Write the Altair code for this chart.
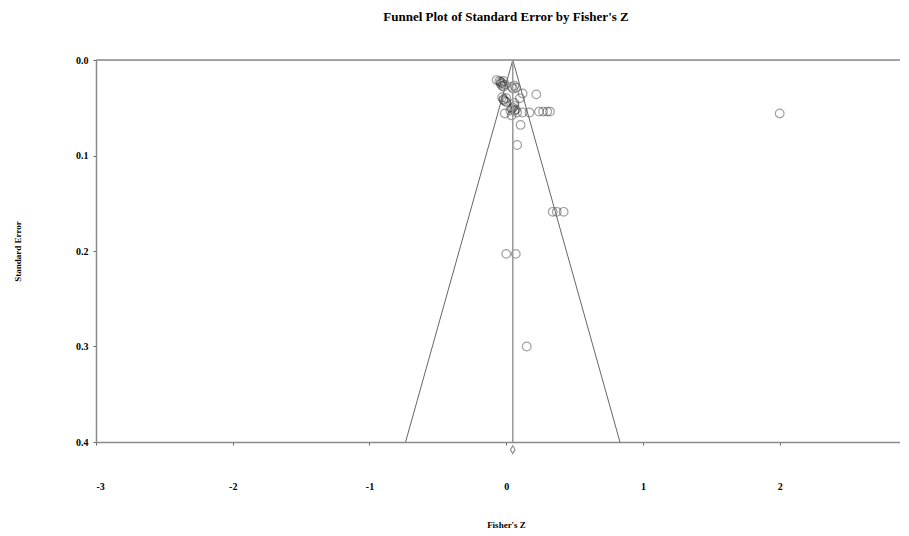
import altair as alt
import pandas as pd

# Study values
fisher_z = [-0.07, -0.05, -0.04, -0.03, -0.02, -0.03, -0.01, -0.04, -0.02,
            0.06, 0.07, 0.05, 0.04,
            -0.03, -0.02, 0.0, -0.01, 0.12, 0.22, 0.10, 0.06, -0.02, 0.0,
            0.06, 0.05, 0.07, 0.03, 0.08, -0.01, 0.12, 0.17, 0.24, 0.27, 0.30, 0.32, 0.04, 0.04, 0.06,
            0.105, 0.08,
            0.34, 0.37, 0.42,
            0.0, 0.07,
            0.15,
            2.0]
std_err = [0.021, 0.022, 0.023, 0.024, 0.022, 0.027, 0.026, 0.025, 0.028,
           0.027, 0.029, 0.030, 0.028,
           0.039, 0.041, 0.040, 0.043, 0.035, 0.036, 0.040, 0.045, 0.042, 0.044,
           0.048, 0.050, 0.052, 0.053, 0.055, 0.056, 0.055, 0.055, 0.054, 0.054, 0.054, 0.054, 0.058, 0.051, 0.053,
           0.068, 0.089,
           0.159, 0.159, 0.159,
           0.203, 0.203,
           0.300,
           0.056]

summary_z = 0.048
summary_se = 0.408
funnel_se = [0.0, 0.4]
x_ticks = [-3, -2, -1, 0, 1, 2]
y_ticks = [0.0, 0.1, 0.2, 0.3, 0.4]

points = pd.DataFrame({"z": fisher_z, "se": std_err})
funnel = pd.DataFrame({
    "z": [summary_z, summary_z - 1.96 * funnel_se[1], summary_z, summary_z + 1.96 * funnel_se[1]],
    "se": [funnel_se[0], funnel_se[1], funnel_se[0], funnel_se[1]],
    "side": ["L", "L", "R", "R"],
})
summary = pd.DataFrame({"z": [summary_z], "se": [summary_se]})

FONT = "Liberation Serif"
GREY = "#8a8a8a"

xscale = alt.Scale(domain=[-3, 2.88], nice=False, zero=False)
yscale = alt.Scale(domain=[0, 0.4], reverse=True, nice=False, zero=False)

xaxis = alt.Axis(values=x_ticks, labelExpr="'' + datum.value", title="Fisher's Z", grid=False,
                 labelFont=FONT, labelFontWeight="bold", labelFontSize=10, labelColor="black",
                 labelPadding=36, tickSize=3, tickColor="#666", domainColor=GREY, domainWidth=1.5,
                 titleFont=FONT, titleFontWeight="bold", titleFontSize=9, titleColor="black",
                 titleX=410, titleY=82, titleAnchor="middle", titleAlign="center", titleBaseline="middle")
yaxis = alt.Axis(values=y_ticks, format=".1f", title="Standard Error", grid=False,
                 labelFont=FONT, labelFontWeight="bold", labelFontSize=10, labelColor="black",
                 labelPadding=5, tickSize=3, tickColor="#666", domainColor=GREY, domainWidth=1.5,
                 titleFont=FONT, titleFontWeight="bold", titleFontSize=9, titleColor="black",
                 titleX=-79, titleY=191, titleAngle=-90, titleAlign="center", titleBaseline="middle")

base_pts = alt.Chart(points).mark_point(shape="circle", filled=False, size=75, stroke="#222",
                                        strokeOpacity=0.6, strokeWidth=1.2).encode(
    x=alt.X("z:Q", scale=xscale, axis=xaxis),
    y=alt.Y("se:Q", scale=yscale, axis=yaxis),
)

top_rule = alt.Chart(summary).mark_rule(color=GREY, strokeWidth=1.5).encode(y=alt.datum(0.0, scale=yscale))

funnel_lines = alt.Chart(funnel).mark_line(color="#666", strokeWidth=1).encode(
    x=alt.X("z:Q", scale=xscale), y=alt.Y("se:Q", scale=yscale), detail="side:N")

mean_line = alt.Chart(summary).mark_rule(color="#999", strokeWidth=1.5).encode(
    x=alt.X("z:Q", scale=xscale), y=alt.datum(funnel_se[0]), y2=alt.datum(funnel_se[1]))

diamond = alt.Chart(summary).mark_point(shape="M0,-1L0.6,0L0,1L-0.6,0Z", size=60, filled=False,
                                        stroke="#666", strokeWidth=1.2).encode(
    x=alt.X("z:Q", scale=xscale), y=alt.Y("se:Q", scale=yscale))

chart = alt.layer(base_pts, top_rule, funnel_lines, mean_line, diamond).properties(
    width=804, height=382,
    title=alt.TitleParams("Funnel Plot of Standard Error by Fisher's Z", font=FONT, fontSize=13,
                          fontWeight="bold", color="black", anchor="middle", offset=31, dx=8),
    autosize=alt.AutoSizeParams(type="none"),
    padding={"left": 88, "top": 52, "right": 0, "bottom": 86},
).configure_view(stroke=None).configure(background="white")

chart.save("out.html", embed_options={"renderer": "svg", "actions": False})
